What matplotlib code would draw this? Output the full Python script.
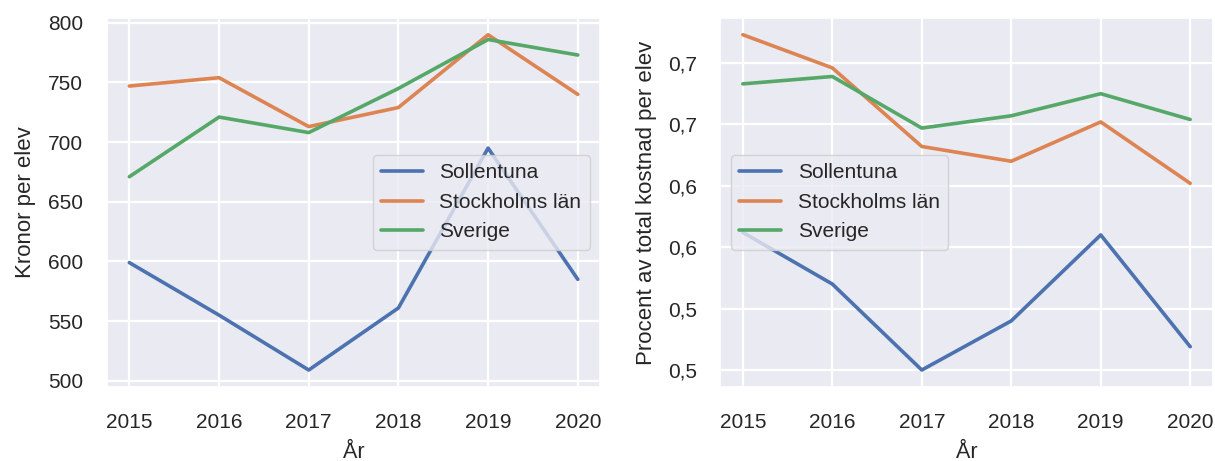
import math

import matplotlib
matplotlib.use("Agg")
import matplotlib.pyplot as plt
import seaborn as sns
from matplotlib.ticker import FuncFormatter

years = [2015, 2016, 2017, 2018, 2019, 2020]

# Kronor per elev
kr_sollentuna = [599, 555, 509, 561, 695, 585]
kr_stockholm = [747, 754, 713, 729, 790, 740]
kr_sverige = [671, 721, 708, 745, 786, 773]

# Procent av total kostnad per elev
pct_sollentuna = [0.612, 0.570, 0.500, 0.540, 0.610, 0.519]
pct_stockholm = [0.773, 0.746, 0.682, 0.670, 0.702, 0.652]
pct_sverige = [0.733, 0.739, 0.697, 0.707, 0.725, 0.704]

labels = ["Sollentuna", "Stockholms län", "Sverige"]
pct_ticks = [0.50, 0.55, 0.60, 0.65, 0.70, 0.75]


def trunc_fmt(v, pos):
    # one decimal, truncated, Swedish comma
    s = f"{math.floor(v * 10 + 1e-6) / 10:.1f}"
    return s.replace(".", ",")


def main() -> None:
    sns.set_theme(style="darkgrid")
    plt.rcParams["font.family"] = ["Liberation Sans", "DejaVu Sans"]
    plt.rcParams["font.size"] = 15
    plt.rcParams["grid.linewidth"] = 1.6
    colors = sns.color_palette("deep")

    fig = plt.figure(figsize=(12.15, 4.61), dpi=100)
    ax1 = fig.add_axes([0.088, 0.161, 0.406, 0.800])
    ax2 = fig.add_axes([0.593, 0.161, 0.405, 0.800])

    for ax, series in (
        (ax1, [kr_sollentuna, kr_stockholm, kr_sverige]),
        (ax2, [pct_sollentuna, pct_stockholm, pct_sverige]),
    ):
        for i, (vals, lab) in enumerate(zip(series, labels)):
            ax.plot(years, vals, color=colors[i], linewidth=2.6, label=lab)
        ax.set_xticks(years)
        ax.tick_params(axis="x", labelsize=15, pad=13)
        ax.tick_params(axis="y", labelsize=15, pad=11)
        ax.set_xlabel("År", fontsize=15.5, labelpad=7)

    ax1.set_yticks([500, 550, 600, 650, 700, 750, 800])
    ax1.set_ylabel("Kronor per elev", fontsize=16, labelpad=9)
    ax1.legend(loc="center right", fontsize=15)

    ax2.set_yticks(pct_ticks)
    ax2.yaxis.set_major_formatter(FuncFormatter(trunc_fmt))
    ax2.set_ylabel("Procent av total kostnad per elev", fontsize=16, labelpad=8)
    ax2.legend(loc="center left", fontsize=15)

    fig.savefig("out.png", dpi=100)
    plt.close(fig)


if __name__ == "__main__":
    main()
